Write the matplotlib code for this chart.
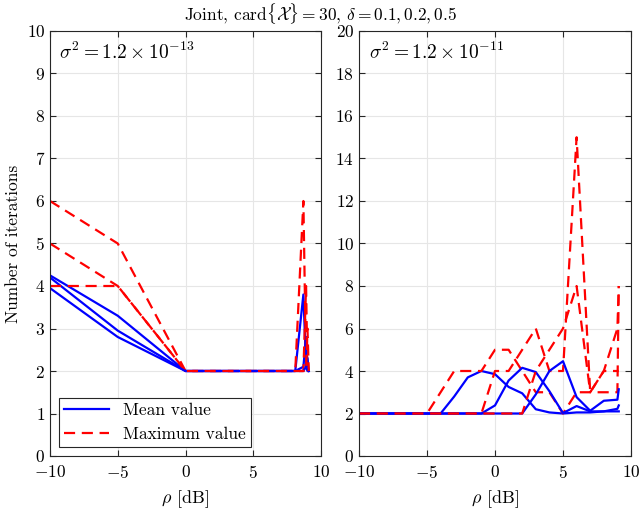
import matplotlib
matplotlib.use("Agg")
import matplotlib.pyplot as plt

plt.rcParams['font.family'] = ['cmr10', 'DejaVu Serif']
plt.rcParams['mathtext.fontset'] = 'cm'
plt.rcParams['axes.unicode_minus'] = False
plt.rcParams['axes.formatter.use_mathtext'] = True

# left panel: sigma^2 = 1.2e-13
rho_left = [-10, -5, 0, 5, 8.1, 8.7, 8.9, 9.0, 9.1]
mean_left = [
    [4.25, 3.3, 2, 2, 2, 3.8, 2.1, 2.0, 2.0],
    [4.2, 2.95, 2, 2, 2, 2.1, 2.8, 2.1, 2.0],
    [3.95, 2.8, 2, 2, 2, 2.0, 2.1, 2.3, 2.0],
]
max_left = [
    [6, 5, 2, 2, 2, 6, 2, 2, 2],
    [5, 4, 2, 2, 2, 2, 4, 2, 2],
    [4, 4, 2, 2, 2, 2, 2, 3, 2],
]

# right panel: sigma^2 = 1.2e-11
rho_right = [-10, -9, -8, -7, -6, -5, -4, -3, -2, -1, 0, 1, 2, 3, 4, 5, 6, 7, 8, 9, 9.1]
mean_right = [
    [2, 2, 2, 2, 2, 2, 2, 2.8, 3.7, 4.0, 3.85, 3.25, 2.95, 2.2, 2.05, 2.0, 2.05, 2.05, 2.1, 2.1, 2.1],
    [2, 2, 2, 2, 2, 2, 2, 2, 2, 2, 2.38, 3.55, 4.15, 3.95, 3.05, 2.02, 2.35, 2.1, 2.1, 2.22, 2.38],
    [2, 2, 2, 2, 2, 2, 2, 2, 2, 2, 2, 2, 2, 2.9, 4.0, 4.46, 2.77, 2.13, 2.6, 2.65, 3.14],
]
max_right = [
    [2, 2, 2, 2, 2, 2, 3, 4, 4, 4, 5, 5, 4, 3, 3, 2, 3, 3, 3, 3, 8],
    [2, 2, 2, 2, 2, 2, 2, 2, 2, 2, 4, 4, 5, 6, 4, 4, 15, 3, 4, 6, 8],
    [2, 2, 2, 2, 2, 2, 2, 2, 2, 2, 2, 2, 2, 4, 5, 6, 8, 3, 4, 4, 4],
]

fig = plt.figure(figsize=(6.4, 5.09), dpi=100)
ax1 = fig.add_axes([50 / 640, 53 / 509, 271 / 640, 425 / 509])
ax2 = fig.add_axes([359 / 640, 53 / 509, 272 / 640, 425 / 509])

panels = [
    (ax1, rho_left, mean_left, max_left, 10, 1, r'$\sigma^2 = 1.2 \times 10^{-13}$'),
    (ax2, rho_right, mean_right, max_right, 20, 2, r'$\sigma^2 = 1.2 \times 10^{-11}$'),
]

for ax, rho, means, maxs, ymax, ystep, label in panels:
    for k in range(3):
        ax.plot(rho, means[k], color=(0, 0, 1), lw=1.6,
                label='Mean value' if k == 0 else None)
        ax.plot(rho, maxs[k], color=(1, 0, 0), lw=1.6, ls=(0, (5, 3)),
                label='Maximum value' if k == 0 else None)
    ax.set_xlim(-10, 10)
    ax.set_ylim(0, ymax)
    ax.set_xticks([-10, -5, 0, 5, 10])
    ax.set_yticks(range(0, ymax + 1, ystep))
    ax.grid(True, color='#e6e6e6', lw=0.8)
    ax.set_axisbelow(True)
    ax.tick_params(direction='in', top=True, right=True, labelsize=12.5,
                   color='#262626', length=4)
    ax.tick_params(axis='x', pad=6)
    for s in ax.spines.values():
        s.set_color('#262626')
        s.set_linewidth(0.8)
    ax.set_xlabel(r'$\rho$ [dB]', fontsize=13, labelpad=5)
    ax.text(0.035, 0.975, label, transform=ax.transAxes, fontsize=14,
            va='top', ha='left')

ax1.set_ylabel('Number of iterations', fontsize=12.5)
leg = ax1.legend(loc='lower left', fontsize=12.5, fancybox=False,
                 edgecolor='#262626', framealpha=1, handlelength=2.6,
                 borderaxespad=0.5, borderpad=0.3)
leg.get_frame().set_linewidth(0.8)

fig.text(0.5, 1 - 1 / 509,
         r'Joint, card$\{\mathcal{X}\} = 30$, $\delta = 0.1, 0.2, 0.5$',
         ha='center', va='top', fontsize=12.5)

fig.savefig('out.png', dpi=100)
